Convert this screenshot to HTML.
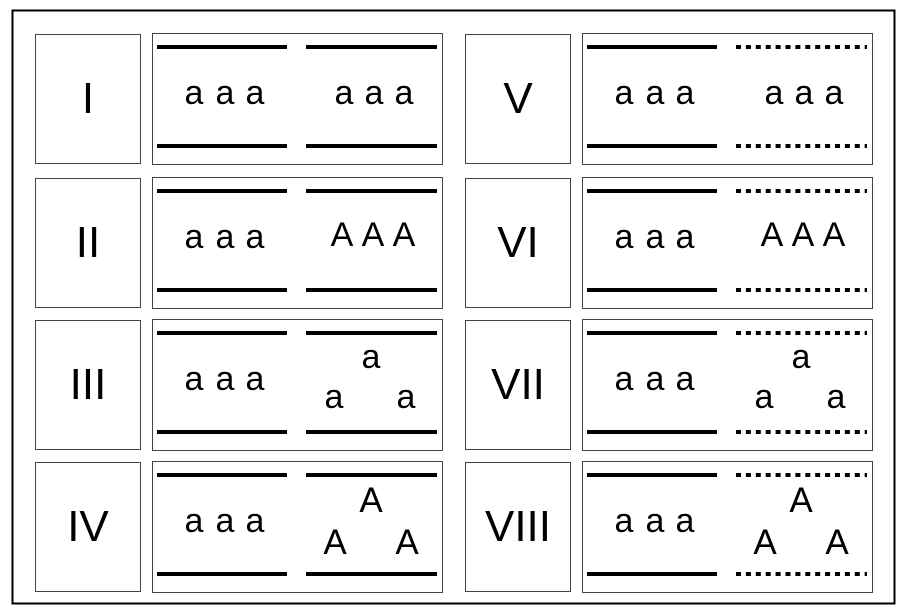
<!DOCTYPE html>
<html><head><meta charset="utf-8"><style>html,body{margin:0;padding:0;background:#fff}svg{display:block}</style></head>
<body>
<svg width="907" height="614" viewBox="0 0 907 614" xmlns="http://www.w3.org/2000/svg" font-family="Liberation Sans, sans-serif">
<defs>
<g id="solidL"><line x1="157" y1="13" x2="287" y2="13" stroke="#000" stroke-width="4"/><line x1="157" y1="112" x2="287" y2="112" stroke="#000" stroke-width="4"/></g>
<g id="solidR"><line x1="306" y1="13" x2="437" y2="13" stroke="#000" stroke-width="4"/><line x1="306" y1="112" x2="437" y2="112" stroke="#000" stroke-width="4"/></g>
<g id="dotR"><line x1="306" y1="13" x2="437" y2="13" stroke="#000" stroke-width="4" stroke-dasharray="5 4.9"/><line x1="306" y1="112" x2="437" y2="112" stroke="#000" stroke-width="4" stroke-dasharray="5 4.9"/></g>
<g id="boxes"><rect x="35.5" y="0.5" width="105" height="129" fill="#fff" stroke="#444"/><rect x="152.5" y="-0.5" width="290" height="131" fill="#fff" stroke="#444"/></g>
<g id="aaaL" font-size="34" text-anchor="middle"><text x="194" y="70">a</text><text x="225" y="70">a</text><text x="255" y="70">a</text></g>
</defs>
<rect x="12.5" y="10.5" width="882" height="593" fill="#fff" stroke="#000" stroke-width="2"/>

<g transform="translate(0,34)">
<use href="#boxes"/><use href="#solidL"/><use href="#solidR"/><use href="#aaaL"/>
<g font-size="34" text-anchor="middle"><text x="344" y="70">a</text><text x="374" y="70">a</text><text x="404" y="70">a</text></g>
<text x="88" y="79" font-size="44" text-anchor="middle">I</text>
</g>
<g transform="translate(0,178)">
<use href="#boxes"/><use href="#solidL"/><use href="#solidR"/><use href="#aaaL"/>
<g font-size="34" text-anchor="middle"><text x="342" y="68">A</text><text x="373" y="68">A</text><text x="404" y="68">A</text></g>
<text x="88" y="79" font-size="44" text-anchor="middle">II</text>
</g>
<g transform="translate(0,320)">
<use href="#boxes"/><use href="#solidL"/><use href="#solidR"/><use href="#aaaL"/>
<g font-size="34" text-anchor="middle"><text x="371" y="48">a</text><text x="334" y="88">a</text><text x="406" y="88">a</text></g>
<text x="88" y="79" font-size="44" text-anchor="middle">III</text>
</g>
<g transform="translate(0,462)">
<use href="#boxes"/><use href="#solidL"/><use href="#solidR"/><use href="#aaaL"/>
<g font-size="35" text-anchor="middle"><text x="371" y="50">A</text><text x="335" y="92">A</text><text x="407" y="92">A</text></g>
<text x="88" y="79" font-size="44" text-anchor="middle">IV</text>
</g>

<g transform="translate(430,34)">
<use href="#boxes"/><use href="#solidL"/><use href="#dotR"/><use href="#aaaL"/>
<g font-size="34" text-anchor="middle"><text x="344" y="70">a</text><text x="374" y="70">a</text><text x="404" y="70">a</text></g>
<text x="88" y="79" font-size="44" text-anchor="middle">V</text>
</g>
<g transform="translate(430,178)">
<use href="#boxes"/><use href="#solidL"/><use href="#dotR"/><use href="#aaaL"/>
<g font-size="34" text-anchor="middle"><text x="342" y="68">A</text><text x="373" y="68">A</text><text x="404" y="68">A</text></g>
<text x="88" y="79" font-size="44" text-anchor="middle">VI</text>
</g>
<g transform="translate(430,320)">
<use href="#boxes"/><use href="#solidL"/><use href="#dotR"/><use href="#aaaL"/>
<g font-size="34" text-anchor="middle"><text x="371" y="48">a</text><text x="334" y="88">a</text><text x="406" y="88">a</text></g>
<text x="88" y="79" font-size="44" text-anchor="middle">VII</text>
</g>
<g transform="translate(430,462)">
<use href="#boxes"/><use href="#solidL"/><use href="#dotR"/><use href="#aaaL"/>
<g font-size="35" text-anchor="middle"><text x="371" y="50">A</text><text x="335" y="92">A</text><text x="407" y="92">A</text></g>
<text x="88" y="79" font-size="44" text-anchor="middle">VIII</text>
</g>
</svg>
</body></html>
